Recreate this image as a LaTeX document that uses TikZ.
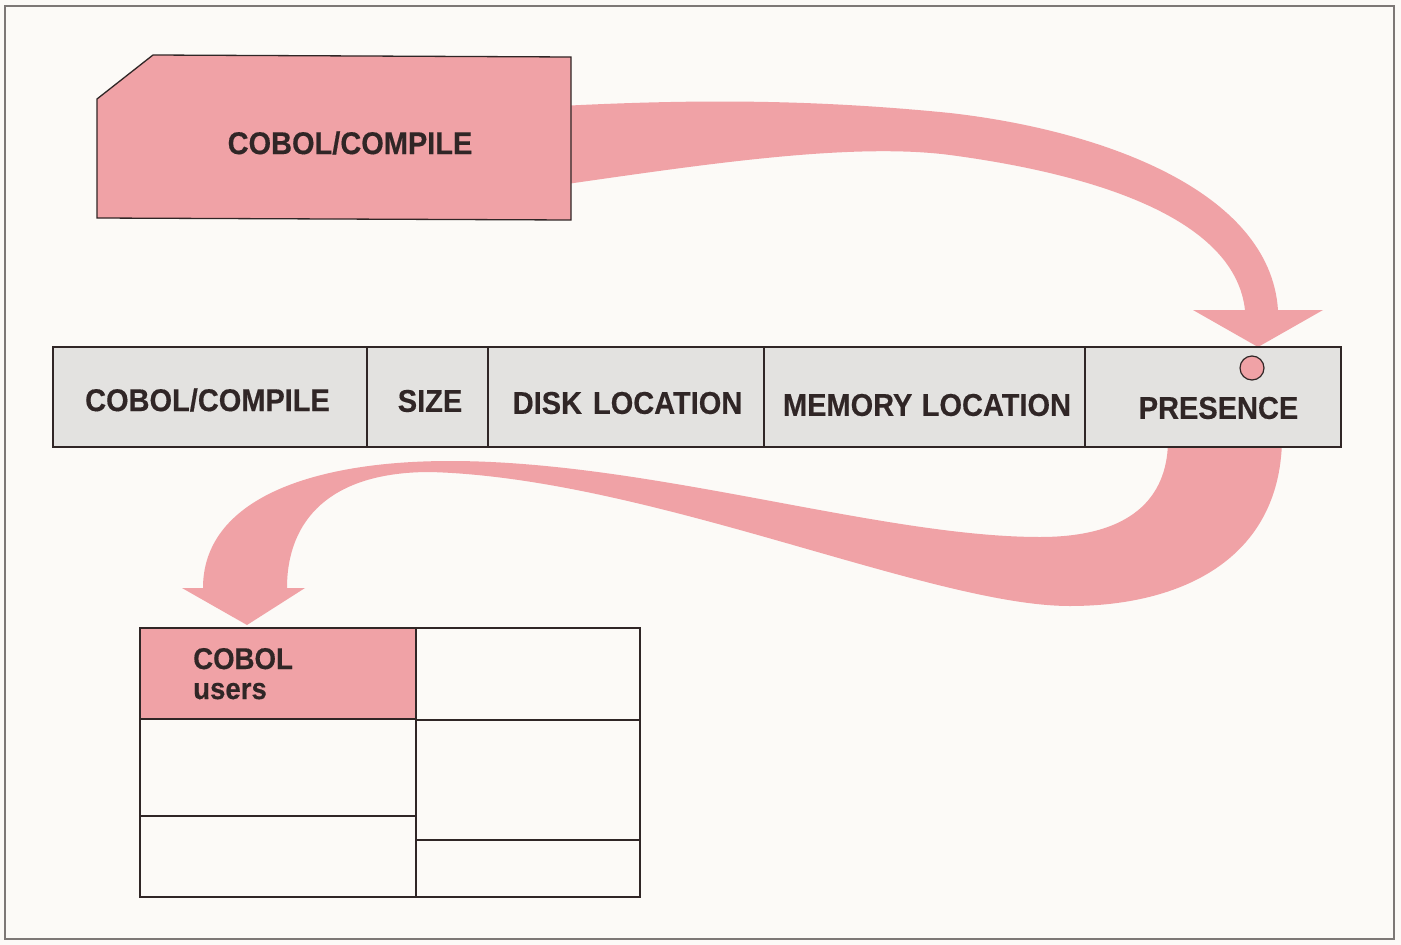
\documentclass[tikz,border=0pt]{standalone}
\usepackage{fontspec}
\setmainfont{Liberation Sans}
\newfontfamily\lblfont{Liberation Sans}[FakeStretch=0.92,FakeBold=0.4]
\definecolor{pinkc}{RGB}{240,162,166}
\definecolor{grayc}{RGB}{227,226,224}
\definecolor{paper}{RGB}{252,250,247}
\definecolor{ink}{RGB}{48,38,38}
\definecolor{framec}{RGB}{125,120,118}
\begin{document}
\begin{tikzpicture}[x=1pt,y=-1pt]
\tikzset{
 lbl/.style={font=\lblfont\bfseries\fontsize{31.5}{34}\selectfont, text=ink, inner sep=0pt},
 ulbl/.style={font=\lblfont\bfseries\fontsize{30}{32}\selectfont, text=ink, inner sep=0pt, anchor=base west},
 gcell/.style={draw=ink, line width=1.2pt, fill=grayc, inner sep=0pt, outer sep=0pt},
 wcell/.style={draw=ink, line width=1.2pt, fill=paper, inner sep=0pt, outer sep=0pt},
 band/.style={fill=pinkc},
 framebox/.style={draw=framec, line width=1.8pt},
}
\path[fill=paper] (0,0) rectangle (1401,945);
\useasboundingbox (0,0) rectangle (1401,945);
\draw[framebox] (5,6) rectangle (1394,939);

% upper arrow (card -> PRESENCE)
\fill[band] (560,106) .. controls (680,100) and (800,98) .. (950,113)
  .. controls (1100,130) and (1270,190) .. (1278,310)
  -- (1323,310) -- (1258,347) -- (1193,310) -- (1245,310)
  .. controls (1235,220) and (1100,175) .. (950,155)
  .. controls (850,142) and (700,165) .. (560,185) -- cycle;

% lower arrow (PRESENCE -> COBOL users)
\fill[band] (1282,440) .. controls (1280,560) and (1180,606) .. (1070,606)
  .. controls (930,606) and (650,478) .. (430,472)
  .. controls (330,472) and (287,520) .. (287,588)
  -- (305,588) -- (247,625) -- (182,588) -- (203,588)
  .. controls (203,500) and (310,461) .. (450,461)
  .. controls (650,461) and (880,537) .. (1040,537)
  .. controls (1140,537) and (1168,490) .. (1168,440) -- cycle;

% main table cells
\node[gcell, minimum width=314pt, minimum height=100pt] (c1) at (210,397) {};
\node[gcell, minimum width=121pt, minimum height=100pt] (c2) at (427.5,397) {};
\node[gcell, minimum width=276pt, minimum height=100pt] (c3) at (626,397) {};
\node[gcell, minimum width=321pt, minimum height=100pt] (c4) at (924.5,397) {};
\node[gcell, minimum width=256pt, minimum height=100pt] (c5) at (1213,397) {};

% card
\draw[ink, line width=1.3pt, fill=pinkc] (97,99) -- (153,55) -- (571,57) -- (571,220) -- (97,218) -- cycle;
\node[lbl] (card) at (350,143) {COBOL/COMPILE};

% table labels
\node[lbl] (t1) at (207.5,400) {COBOL/COMPILE};
\node[lbl] (t2) at (430,401) {SIZE};
\node[lbl] (t3) at (627.5,403) {DISK\hspace{0.35em}LOCATION};
\node[lbl] (t4) at (927,405) {MEMORY\hspace{0.3em}LOCATION};
\node[lbl] (t5) at (1218.5,408) {PRESENCE};
\node[circle, draw=ink, line width=1.2pt, fill=pinkc, minimum size=24pt, inner sep=0pt] (pres) at (1252,368) {};

% lower table
\node[wcell, fill=pinkc, minimum width=276pt, minimum height=91pt] (u1) at (278,673.5) {};
\node[wcell, minimum width=224pt, minimum height=92pt] (r1) at (528,674) {};
\node[wcell, minimum width=276pt, minimum height=97pt] (l2) at (278,767.5) {};
\node[wcell, minimum width=276pt, minimum height=81pt] (l3) at (278,856.5) {};
\node[wcell, minimum width=224pt, minimum height=120pt] (r2) at (528,780) {};
\node[wcell, minimum width=224pt, minimum height=57pt] (r3) at (528,868.5) {};
\node[ulbl] (cob) at (193,669) {COBOL};
\node[ulbl] (usr) at (193,699) {users};
\end{tikzpicture}
\end{document}
